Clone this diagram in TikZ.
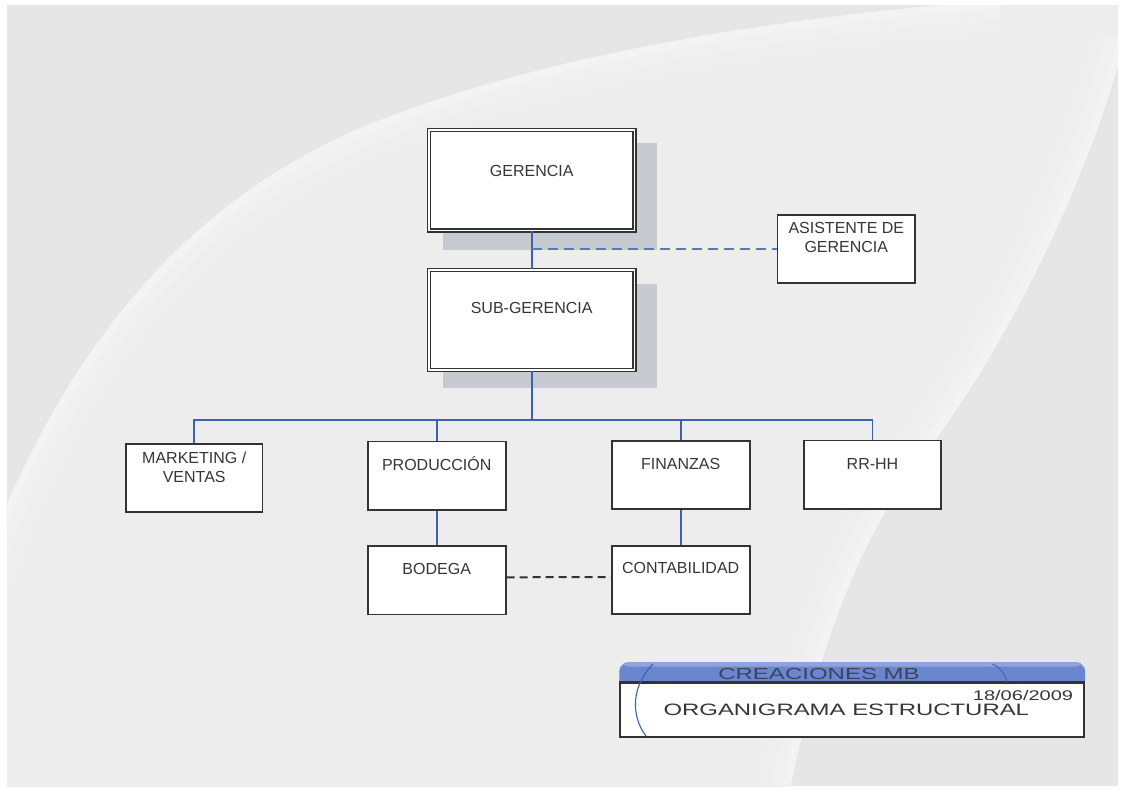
\documentclass[tikz,border=0pt]{standalone}
\usepackage{fontspec}
\setmainfont{Liberation Sans}
\usetikzlibrary{calc}

\definecolor{pagegray}{HTML}{E6E6E6}
\definecolor{lensgray}{HTML}{EDEDED}
\definecolor{boxline}{HTML}{333333}
\definecolor{boxtext}{HTML}{363636}
\definecolor{linkblue}{HTML}{3F5FB5}
\definecolor{assistblue}{HTML}{5B76C4}
\definecolor{shadowgray}{HTML}{C8CAD2}
\definecolor{barblue}{HTML}{6A86CF}
\definecolor{bartext}{HTML}{3E4260}

\tikzset{
  unitbox/.style={draw=boxline, line width=1.8pt, fill=white,
    minimum width=138.2pt, minimum height=68.2pt, inner sep=0pt},
  headbox/.style={draw=boxline, line width=1.3pt, double=white,
    double distance=1.8pt, fill=white,
    minimum width=205.5pt, minimum height=100.5pt, inner sep=0pt},
  caption/.style={font=\fontsize{16}{19}\selectfont, text=boxtext,
    inner sep=0pt, align=center, anchor=north},
  oneline/.style={caption, text height=11.5pt, text depth=0pt},
  link/.style={draw=linkblue, line width=1.7pt},
  aidlink/.style={draw=assistblue, line width=1.6pt, dash pattern=on 10pt off 6pt},
  peerlink/.style={draw=boxline, line width=2pt, dash pattern=on 8pt off 5pt},
  backshade/.style={fill=shadowgray},
  glow/.style={draw=white, line cap=butt},
}

\begin{document}
\begin{tikzpicture}[x=1pt, y=-1pt]
\useasboundingbox (0,0) rectangle (1121,788);

% paper, grey slide and the pale lens-shaped swoosh
\fill[white] (0,0) rectangle (1121,788);
\fill[pagegray] (7,5) rectangle (1118,786);
\begin{scope}
  \clip (7,5) rectangle (1118,786);
  \fill[lensgray] (0,520) .. controls (80,330) and (200,190) .. (380,120)
    .. controls (560,50) and (800,15) .. (1000,0) -- (1125,0) -- (1125,40)
    .. controls (1090,180) and (1000,360) .. (920,460)
    .. controls (860,540) and (820,640) .. (790,790) -- (0,790) -- cycle;
  \clip (0,520) .. controls (80,330) and (200,190) .. (380,120)
    .. controls (560,50) and (800,15) .. (1000,0) -- (1125,0) -- (1125,40)
    .. controls (1090,180) and (1000,360) .. (920,460)
    .. controls (860,540) and (820,640) .. (790,790) -- (0,790) -- cycle;
  \foreach \w/\o in {70/0.10, 40/0.14, 16/0.2} {
    \draw[glow, line width=\w pt, opacity=\o]
      (-20,580) -- (0,520) .. controls (80,330) and (200,190) .. (380,120)
      .. controls (560,50) and (800,15) .. (1000,0);
    \draw[glow, line width=\w pt, opacity=\o]
      (1125,40) .. controls (1090,180) and (1000,360) .. (920,460)
      .. controls (860,540) and (820,640) .. (790,790);
  }
\end{scope}

% drop shadows of the two head boxes
\coordinate (gsw) at (428.6,231.4);
\coordinate (gne) at (634.8,129.2);
\fill[backshade] ($(gsw)+(14.5,18.5)$) rectangle ($(gne)+(22,14)$);
\coordinate (ssw) at (428.6,369.8);
\coordinate (sne) at (634.8,270.2);
\fill[backshade] ($(ssw)+(14.5,18.5)$) rectangle ($(sne)+(22,14)$);

% boxes
\node[headbox, label={[oneline, yshift=-35.5pt]north:GERENCIA}] (g) at (531.7,180.3) {};
\node[headbox, label={[oneline, yshift=-33pt]north:SUB-GERENCIA}] (s) at (531.7,320) {};
\node[unitbox, minimum width=137.5pt, label={[caption, yshift=-8.6pt]north:ASISTENTE DE\\GERENCIA}] (a) at (846.3,248.7) {};

\node[unitbox, minimum width=136.5pt, label={[caption, yshift=-9.3pt]north:MARKETING /\\VENTAS}] (m) at (194.2,477.7) {};
\node[unitbox, label={[oneline, yshift=-18pt]north:PRODUCCIÓN}] (p) at (436.7,475.5) {};
\node[unitbox, label={[oneline, yshift=-18.5pt]north:FINANZAS}] (f) at (680.7,474.7) {};
\node[unitbox, minimum width=137.2pt, label={[oneline, yshift=-18pt]north:RR-HH}] (r) at (872.5,474.5) {};
\node[unitbox, label={[oneline, yshift=-17.6pt]north:BODEGA}] (b) at (436.7,580.3) {};
\node[unitbox, label={[oneline, yshift=-17pt]north:CONTABILIDAD}] (c) at (680.7,580) {};

% connectors
\coordinate (bus) at (531.7,420);
\draw[link] (g.south) -- (s.north);
\draw[aidlink] (g.south |- a.west) -- (a.west);
\draw[link] (s.south) -- (bus);
\draw[link] (m.north) -- (m.north |- bus) -- (r.north |- bus) -- (r.north);
\draw[link] (p.north) -- (p.north |- bus);
\draw[link] (f.north) -- (f.north |- bus);
\draw[link] (p.south) -- (b.north);
\draw[link] (f.south) -- (c.north);
\draw[peerlink] ([yshift=3pt]b.east) -- ([yshift=3pt]c.west);

% title block
\node[draw=boxline, line width=1.8pt, fill=white, minimum width=464pt,
      minimum height=54pt, inner sep=0pt] (tb) at (852.2,709.6) {};
\fill[barblue] (tb.north west) [rounded corners=9pt] -- ++(0,-19.5)
  -- ($(tb.north east)+(0,-19.5)$) [sharp corners] -- (tb.north east) -- cycle;
\fill[white, opacity=0.25] ($(tb.north west)+(2,-19.5)$) [rounded corners=8pt]
  rectangle ($(tb.north east)+(-2,-15)$);
\draw[boxline, line width=1.6pt] (tb.north west) -- (tb.north east);
\draw[linkblue, line width=1.1pt] (653,664) .. controls (632,685) and (630,715) .. (646,736);
\draw[linkblue, line width=0.8pt] (992,664) .. controls (1002,667) and (1004,676) .. (1008,682);
\node[font=\fontsize{16}{19}\selectfont, text=bartext, inner sep=0pt] (brand)
  at (819,674) {\scalebox{1.5}[1]{CREACIONES MB}};
\node[font=\fontsize{14}{16}\selectfont, text=boxtext, inner sep=0pt,
      anchor=north east] (date) at (1073.3,690) {\scalebox{1.43}[1]{18/06/2009}};
\node[font=\fontsize{16.5}{19}\selectfont, text=boxtext, inner sep=0pt,
      anchor=north west] (doc) at (663.3,703.3) {\scalebox{1.45}[1]{ORGANIGRAMA ESTRUCTURAL}};
\end{tikzpicture}
\end{document}
